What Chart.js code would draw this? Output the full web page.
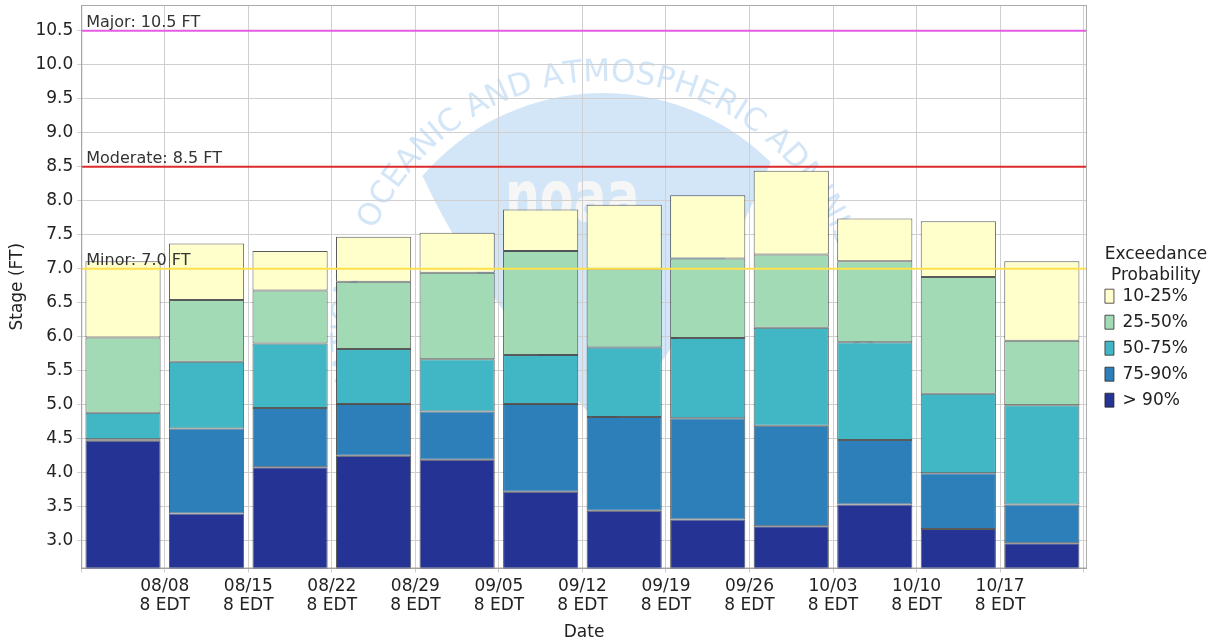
<!DOCTYPE html>
<html>
<head>
<meta charset="utf-8">
<title>Exceedance Probability</title>
<script src="https://cdn.jsdelivr.net/npm/chart.js@4.4.1/dist/chart.umd.min.js"></script>
<style>
  html, body { margin: 0; padding: 0; background: #fff; }
  #wrap { width: 1223px; height: 643px; position: relative; }
</style>
</head>
<body>
<div id="wrap"><canvas id="stageChart"></canvas></div>
<script>
// Week labels (tick at the start of each week) and the stage ticks
const weeks = ['08/08', '08/15', '08/22', '08/29', '09/05', '09/12', '09/19', '09/26', '10/03', '10/10', '10/17'];
const tickTime = '8 EDT';
const stageTicks = [3.0, 3.5, 4.0, 4.5, 5.0, 5.5, 6.0, 6.5, 7.0, 7.5, 8.0, 8.5, 9.0, 9.5, 10.0, 10.5];

// Stage (FT) at each exceedance level, one value per week (08/01 .. 10/17)
const p90 = [4.47, 3.40, 4.08, 4.25, 4.19, 3.72, 3.44, 3.31, 3.21, 3.53, 3.17, 2.96];
const p75 = [4.49, 4.65, 4.95, 5.01, 4.90, 5.01, 4.82, 4.80, 4.69, 4.48, 3.99, 3.53];
const p50 = [4.88, 5.63, 5.90, 5.82, 5.67, 5.73, 5.84, 5.98, 6.13, 5.92, 5.16, 4.99];
const p25 = [5.99, 6.54, 6.68, 6.81, 6.94, 7.26, 7.00, 7.15, 7.21, 7.11, 6.88, 5.94];
const p10 = [7.11, 7.37, 7.26, 7.47, 7.53, 7.87, 7.94, 8.08, 8.44, 7.74, 7.70, 7.11];

// Flood stages
const floodNames = ['Major', 'Moderate', 'Minor'];
const floodStages = [10.5, 8.5, 7.0];
const floodColors = ['#e45ce4', '#dd2b2b', '#ffe14d'];

const FONT = 'DejaVu Sans';
Chart.defaults.font.family = FONT;
Chart.defaults.color = '#222';

// bars sit in the middle of each week
const band = (lo, hi) => hi.map((h, i) => ({ x: i + 0.5, y: lo ? [lo[i], h] : h }));

const barStyle = {
  grouped: false,
  borderWidth: 1,
  borderColor: 'rgba(35,35,35,0.75)',
  borderSkipped: false,
  barPercentage: 0.9,
  categoryPercentage: 1.0
};

const datasets = [
  { label: '10-25%', data: band(p25, p10), backgroundColor: '#ffffcc', ...barStyle },
  { label: '25-50%', data: band(p50, p25), backgroundColor: '#a1dab4', ...barStyle },
  { label: '50-75%', data: band(p75, p50), backgroundColor: '#41b6c4', ...barStyle },
  { label: '75-90%', data: band(p90, p75), backgroundColor: '#2c7fb8', ...barStyle },
  { label: '> 90%', data: band(null, p90), backgroundColor: '#253494', ...barStyle }
];

// faint agency seal behind the plot
const watermark = {
  id: 'watermark',
  beforeDraw(chart) {
    const { ctx, chartArea: a } = chart;
    const cx = 603, cy = 331, r = 238;
    ctx.save();
    ctx.beginPath();
    ctx.rect(a.left, a.top, a.right - a.left, a.bottom - a.top);
    ctx.clip();

    // sky part of the seal above the gull
    const start = Math.atan2(177 - cy, 423 - cx);
    const end = Math.atan2(163 - cy, 770 - cx);
    ctx.fillStyle = '#d3e6f8';
    ctx.beginPath();
    ctx.arc(cx, cy, r, start, end);
    ctx.quadraticCurveTo(700, 330, 605, 430);
    ctx.quadraticCurveTo(480, 300, 423, 177);
    ctx.closePath();
    ctx.fill();

    // letters
    ctx.fillStyle = '#f6f6f6';
    ctx.font = 'bold 72px "' + FONT + '"';
    ctx.textBaseline = 'top';
    ctx.save();
    ctx.translate(505, 166);
    ctx.scale(0.68, 1);
    ctx.fillText('noaa', 0, 0);
    ctx.restore();

    // ring text
    const txt = 'NATIONAL OCEANIC AND ATMOSPHERIC ADMINISTRATION';
    ctx.font = '31px "' + FONT + '"';
    ctx.fillStyle = '#d3e6f8';
    ctx.textBaseline = 'alphabetic';
    ctx.textAlign = 'center';
    const rr = 250;
    const total = ctx.measureText(txt).width / rr;
    let ang = -Math.PI / 2 - total / 2 - 0.04;
    for (const ch of txt) {
      const w = ctx.measureText(ch).width / rr;
      const mid = ang + w / 2;
      ctx.save();
      ctx.translate(cx + rr * Math.cos(mid), cy + rr * Math.sin(mid));
      ctx.rotate(mid + Math.PI / 2);
      ctx.fillText(ch, 0, 0);
      ctx.restore();
      ang += w;
    }
    ctx.restore();
  }
};

// flood stage lines, labels and the plot frame
const floodLines = {
  id: 'floodLines',
  afterDatasetsDraw(chart) {
    const { ctx, chartArea: a, scales: { y } } = chart;
    ctx.save();
    floodStages.forEach((v, i) => {
      const py = y.getPixelForValue(v);
      ctx.strokeStyle = floodColors[i];
      ctx.lineWidth = 2;
      ctx.beginPath();
      ctx.moveTo(a.left, py);
      ctx.lineTo(a.right, py);
      ctx.stroke();
      ctx.fillStyle = '#333';
      ctx.font = '16px "' + FONT + '"';
      ctx.textBaseline = 'alphabetic';
      ctx.fillText(floodNames[i] + ': ' + v.toFixed(1) + ' FT', a.left + 5, py - 4);
    });
    ctx.strokeStyle = '#aaa';
    ctx.lineWidth = 1;
    ctx.strokeRect(a.left + 0.5, a.top + 0.5, a.right - a.left - 1, a.bottom - a.top - 1);
    ctx.restore();
  }
};

// nudge the legend column to sit like the original
const legendNudge = {
  id: 'legendNudge',
  afterLayout(chart) {
    const lg = chart.legend;
    lg.left = chart.chartArea.right + 9;
    lg.width = 120;
    lg.right = lg.left + lg.width;
    lg.top += 2;
    lg.bottom += 2;
  }
};

const ctx = document.getElementById('stageChart').getContext('2d');

new Chart(ctx, {
  type: 'bar',
  data: { datasets: datasets },
  options: {
    responsive: true,
    maintainAspectRatio: false,
    animation: false,
    layout: { padding: { left: 0, right: 34, top: 5, bottom: 0 } },
    scales: {
      x: {
        type: 'linear',
        min: 0,
        max: 12.04,
        offset: false,
        grid: { color: '#cfcfcf', offset: false, tickLength: 4 },
        border: { color: '#999' },
        afterBuildTicks: (scale) => {
          scale.ticks = weeks.map((w, i) => ({ value: i + 1 }));
          scale.ticks.unshift({ value: 0 });
          scale.ticks.push({ value: 12 });
        },
        ticks: {
          autoSkip: false,
          maxRotation: 0,
          padding: 4,
          font: { size: 17, lineHeight: 1.15 },
          callback: (v) => {
            const k = Math.round(v);
            return (k >= 1 && k <= weeks.length) ? [weeks[k - 1], tickTime] : '';
          }
        },
        title: { display: true, text: 'Date', font: { size: 17 }, padding: { top: 3, bottom: 0 } }
      },
      y: {
        min: 2.59,
        max: 10.88,
        grid: { color: '#cfcfcf', tickLength: 4 },
        border: { color: '#999' },
        afterBuildTicks: (scale) => {
          scale.ticks = stageTicks.map(v => ({ value: v }));
        },
        afterFit: (scale) => {
          // the end labels are well inside the plot, no extra room needed
          scale.paddingTop = 0;
          scale.paddingBottom = 0;
        },
        ticks: {
          padding: 4,
          font: { size: 17 },
          callback: (v) => Number(v).toFixed(1)
        },
        title: { display: true, text: 'Stage (FT)', font: { size: 17 }, padding: { top: 7, bottom: 4 } }
      }
    },
    plugins: {
      legend: {
        position: 'right',
        align: 'center',
        title: {
          display: true,
          text: ['Exceedance', 'Probability'],
          font: { size: 17 },
          padding: 12
        },
        labels: {
          boxWidth: 9,
          boxHeight: 14,
          padding: 9,
          font: { size: 17 },
          color: '#222'
        }
      },
      tooltip: { enabled: false }
    }
  },
  plugins: [watermark, floodLines, legendNudge]
});
</script>
</body>
</html>
